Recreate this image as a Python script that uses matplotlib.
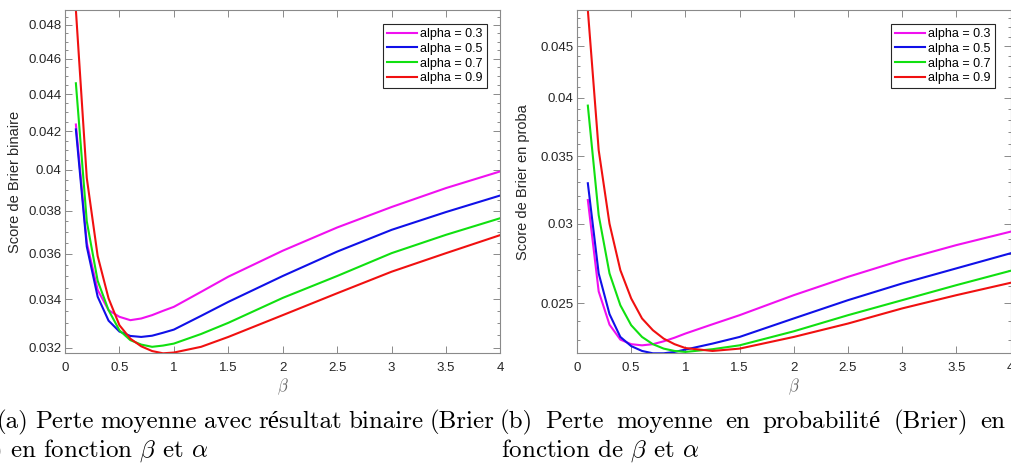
import matplotlib
matplotlib.use("Agg")
import matplotlib.pyplot as plt
from matplotlib.ticker import FixedLocator, MultipleLocator, NullFormatter

plt.rcParams['font.family'] = ['Liberation Sans', 'DejaVu Sans']
plt.rcParams['mathtext.fontset'] = 'cm'

# beta grid and the four alpha curves
beta = [0.1, 0.2, 0.3, 0.4, 0.5, 0.6, 0.7, 0.8, 0.9, 1.0, 1.25, 1.5, 2.0, 2.5, 3.0, 3.5, 4.0]
labels = ['alpha = 0.3', 'alpha = 0.5', 'alpha = 0.7', 'alpha = 0.9']
colors = ['#f010f0', '#1010e8', '#10e010', '#f01010']

# (a) Brier score, binary outcome
bin_a03 = [0.04235, 0.0365, 0.0344, 0.03354, 0.03326, 0.03312, 0.03319, 0.03333, 0.03351, 0.03368,
           0.03432, 0.03498, 0.03614, 0.03721, 0.03818, 0.0391, 0.03993]
bin_a05 = [0.04209, 0.03633, 0.03411, 0.0331, 0.03265, 0.03247, 0.03243, 0.03248, 0.0326, 0.03273,
           0.0333, 0.03389, 0.03501, 0.0361, 0.0371, 0.03794, 0.03874]
bin_a07 = [0.0446, 0.0375, 0.0348, 0.03354, 0.0327, 0.0323, 0.03212, 0.03203, 0.03208, 0.03216,
           0.03255, 0.03301, 0.03406, 0.03501, 0.03603, 0.03687, 0.03765]
bin_a09 = [0.0489, 0.0396, 0.0359, 0.03404, 0.03291, 0.03236, 0.03205, 0.03186, 0.03177, 0.0318,
           0.03203, 0.03243, 0.03333, 0.03426, 0.0352, 0.03603, 0.03686]

# (b) Brier score, probability outcome
prob_a03 = [0.03167, 0.0257, 0.02382, 0.02302, 0.02278, 0.02272, 0.02278, 0.02293, 0.02312, 0.02334,
            0.02384, 0.02434, 0.02548, 0.02657, 0.02761, 0.02857, 0.02946]
prob_a05 = [0.03291, 0.02678, 0.0244, 0.02316, 0.02268, 0.02243, 0.02231, 0.02231, 0.02238, 0.0225,
            0.02281, 0.02316, 0.02416, 0.02519, 0.02617, 0.02709, 0.02804]
prob_a07 = [0.0393, 0.0306, 0.02678, 0.0249, 0.02379, 0.02316, 0.02278, 0.02255, 0.02243, 0.02238,
            0.02252, 0.02272, 0.02346, 0.02434, 0.02519, 0.02607, 0.02694]
prob_a09 = [0.0489, 0.0355, 0.0300, 0.02698, 0.02529, 0.02416, 0.02352, 0.02307, 0.02278, 0.02258,
            0.02243, 0.02255, 0.02316, 0.02388, 0.02472, 0.02548, 0.02621]

xticks = [0, 0.5, 1, 1.5, 2, 2.5, 3, 3.5, 4]
xticklabels = ['0', '0.5', '1', '1.5', '2', '2.5', '3', '3.5', '4']
bin_yticks = [0.032, 0.034, 0.036, 0.038, 0.040, 0.042, 0.044, 0.046, 0.048]
bin_yticklabels = ['0.032', '0.034', '0.036', '0.038', '0.04', '0.042', '0.044', '0.046', '0.048']
prob_yticks = [0.025, 0.030, 0.035, 0.040, 0.045]
prob_yticklabels = ['0.025', '0.03', '0.035', '0.04', '0.045']

W, H = 1011, 472
TXT = '#262626'
EDGE = '#8a8a8a'

fig = plt.figure(figsize=(W / 100, H / 100), dpi=100)
ax1 = fig.add_axes([65 / W, (H - 353.3) / H, 435.5 / W, 343.3 / H])
ax2 = fig.add_axes([577 / W, (H - 353.3) / H, 433.5 / W, 343.3 / H])


def draw(ax, series, ylabel, yticks, yticklabels, minor_step, leg_x, lab_x):
    for vals, lab, c in zip(series, labels, colors):
        ax.plot(beta, vals, color=c, lw=1.5, label=lab)
    ax.set_yscale('log')
    ax.set_xlim(0, 4)
    # tight limits on the data, like matlab "axis tight"
    lo = min(min(s) for s in series)
    hi = max(max(s) for s in series)
    ax.set_ylim(lo, hi)
    ax.set_xticks(xticks)
    ax.set_xticklabels(xticklabels)
    ax.yaxis.set_major_locator(FixedLocator(yticks))
    ax.set_yticklabels(yticklabels)
    ax.yaxis.set_minor_locator(MultipleLocator(minor_step))
    ax.yaxis.set_minor_formatter(NullFormatter())
    ax.xaxis.set_minor_locator(FixedLocator([]))
    ax.tick_params(which='both', direction='in', top=True, right=True,
                   color=EDGE, width=0.7, labelcolor=TXT, labelsize=9.5)
    ax.tick_params(which='major', length=5)
    ax.tick_params(which='minor', length=2.5)
    ax.tick_params(axis='x', pad=6)
    ax.tick_params(axis='y', pad=2.5)
    for s in ax.spines.values():
        s.set_color(EDGE)
        s.set_linewidth(0.8)
    ax.set_ylabel(ylabel, fontsize=10.5, color=TXT)
    ax.yaxis.set_label_coords(lab_x, 0.5)
    ax.yaxis.label.set_va('center')
    ax.set_xlabel(r'$\beta$', fontsize=12, color='#666666')
    ax.xaxis.set_label_coords(0.5, -(387 - 353.3) / 343.3)
    ax.xaxis.label.set_va('center')
    leg = ax.legend(loc='upper right', bbox_to_anchor=(leg_x, 0.959), borderaxespad=0,
                    fancybox=False, edgecolor=TXT, framealpha=1, fontsize=9,
                    handlelength=2.4, handletextpad=0.25, labelspacing=0.22, borderpad=0.32)
    leg.get_frame().set_linewidth(0.8)


draw(ax1, [bin_a03, bin_a05, bin_a07, bin_a09], 'Score de Brier binaire',
     bin_yticks, bin_yticklabels, 0.0005, (487 - 65) / 435.5, -50 / 435.5)
draw(ax2, [prob_a03, prob_a05, prob_a07, prob_a09], 'Score de Brier en proba',
     prob_yticks, prob_yticklabels, 0.001, (995 - 577) / 433.5, -53.7 / 433.5)

# captions (computer modern, first lines justified)
cap = dict(family=['cmr10', 'Liberation Serif'], fontsize=18, color='black', va='baseline')
renderer = fig.canvas.get_renderer()


def justify(words, x0, x1, y):
    texts = [fig.text(0, (H - y) / H, w, **cap) for w in words]
    widths = [t.get_window_extent(renderer).width for t in texts]
    gap = (x1 - x0 - sum(widths)) / (len(words) - 1)
    x = x0
    for t, w in zip(texts, widths):
        t.set_x(x / W)
        x += w + gap


justify(['(a)', 'Perte', 'moyenne', 'avec', 'résultat', 'binaire', '(Brier'],
        -3, 495, 428)
justify(['(b)', 'Perte', 'moyenne', 'en', 'probabilité', '(Brier)', 'en'],
        500, 1005, 428)
fig.text(-8 / W, (H - 457) / H, r') en fonction $\beta$ et $\alpha$', **cap)
fig.text(501 / W, (H - 457) / H, r'fonction de $\beta$ et $\alpha$', **cap)

fig.savefig('out.png', dpi=100)
